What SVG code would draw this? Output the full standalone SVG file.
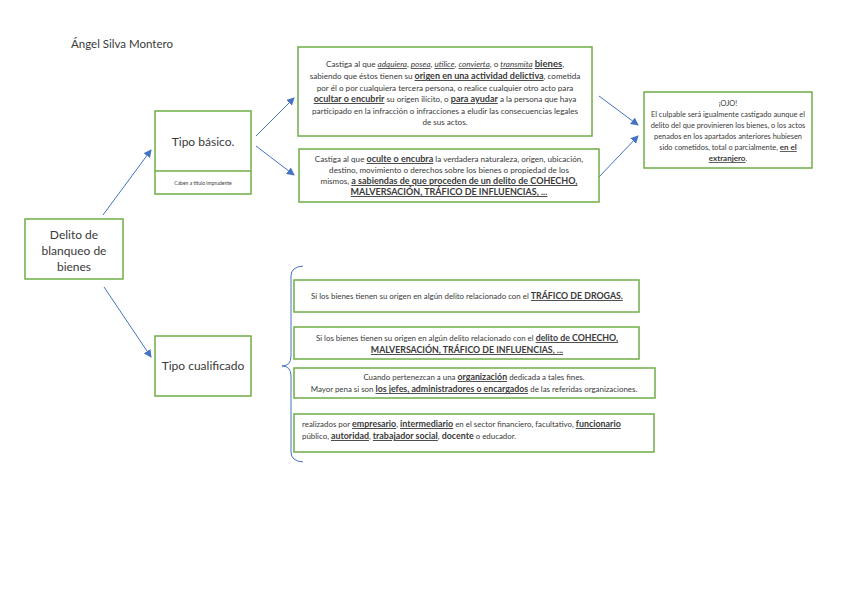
<svg xmlns="http://www.w3.org/2000/svg" width="848" height="599" viewBox="0 0 848 599">
<defs>
<marker id="ah" markerWidth="8" markerHeight="8" refX="7" refY="4" orient="auto" markerUnits="userSpaceOnUse">
<path d="M0,0 L8,4 L0,8 z" fill="#4472C4"/>
</marker>
<style>
.box{fill:#fff;stroke:#70AD47;stroke-width:1.5}
.t{font-family:Lato,"Liberation Sans",sans-serif;fill:#3a3a3a}
.s{font-size:7.4px}
.a{font-size:8.1px}
.q{font-size:7.9px}
.m{text-anchor:middle}
.u{text-decoration:underline;font-weight:bold}
.ui{text-decoration:underline;font-style:italic}
.arrow{stroke:#4472C4;stroke-width:1;fill:none;marker-end:url(#ah)}
</style>
</defs>
<rect width="848" height="599" fill="#fff"/>
<text class="t" x="71" y="48" font-size="11.5">Ángel Silva Montero</text>

<g id="connectors">
<line class="arrow" x1="103" y1="215" x2="151" y2="150"/>
<line class="arrow" x1="104" y1="287" x2="151" y2="357"/>
<line class="arrow" x1="256" y1="136" x2="294" y2="98"/>
<line class="arrow" x1="256" y1="146" x2="294" y2="175"/>
<line class="arrow" x1="599" y1="96" x2="638" y2="125"/>
<line class="arrow" x1="599" y1="177" x2="638" y2="136"/>
<path d="M303,266 Q291,267 291,276 L291,356 Q291,366 282,366 Q291,366 291,376 L291,452 Q291,461 303,462" stroke="#4472C4" stroke-width="1" fill="none"/>
</g>

<g id="delito">
<rect class="box" x="25" y="219" width="98" height="60"/>
<text class="t m" x="74" y="239" font-size="12">Delito de</text>
<text class="t m" x="74" y="255" font-size="12">blanqueo de</text>
<text class="t m" x="74" y="271" font-size="12">bienes</text>
</g>

<g id="tipo-basico">
<rect class="box" x="155" y="111" width="96" height="83"/>
<line x1="155" y1="171" x2="251" y2="171" stroke="#70AD47" stroke-width="1.5"/>
<text class="t m" x="203" y="146" font-size="12">Tipo básico.</text>
<text class="t m" x="203" y="185" font-size="5">Caben a título imprudente</text>
</g>

<g id="tipo-cualificado">
<rect class="box" x="155" y="336" width="96" height="60"/>
<text class="t m" x="203" y="370" font-size="12">Tipo cualificado</text>
</g>

<g id="basico-1">
<rect class="box" x="298" y="47" width="294" height="89"/>
<text class="t a m" x="445" y="67">Castiga al que <tspan class="ui">adquiera</tspan>, <tspan class="ui">posea</tspan>, <tspan class="ui">utilice</tspan>, <tspan class="ui">convierta</tspan>, o <tspan class="ui">transmita</tspan> <tspan class="u" font-size="9.5">bienes</tspan>,</text>
<text class="t a m" x="445" y="79">sabiendo que éstos tienen su <tspan class="u" font-size="9">origen en una actividad delictiva</tspan>, cometida</text>
<text class="t a m" x="445" y="91">por él o por cualquiera tercera persona, o realice cualquier otro acto para</text>
<text class="t a m" x="445" y="102"><tspan class="u" font-size="9">ocultar o encubrir</tspan> su origen ilícito, o <tspan class="u" font-size="9">para ayudar</tspan> a la persona que haya</text>
<text class="t a m" x="445" y="114">participado en la infracción o infracciones a eludir las consecuencias legales</text>
<text class="t a m" x="445" y="125">de sus actos.</text>
</g>

<g id="basico-2">
<rect class="box" x="299" y="149" width="300" height="53"/>
<text class="t a m" x="449" y="162">Castiga al que <tspan class="u" font-size="9">oculte o encubra</tspan> la verdadera naturaleza, origen, ubicación,</text>
<text class="t a m" x="449" y="173">destino, movimiento o derechos sobre los bienes o propiedad de los</text>
<text class="t a m" x="449" y="184">mismos, <tspan class="u" font-size="9">a sabiendas de que proceden de un delito de COHECHO,</tspan></text>
<text class="t a m" x="449" y="195"><tspan class="u" font-size="9">MALVERSACIÓN, TRÁFICO DE INFLUENCIAS, ...</tspan></text>
</g>

<g id="ojo">
<rect class="box" x="644" y="92" width="168" height="76"/>
<text class="t s m" x="728" y="106">¡OJO!</text>
<text class="t s m" x="728" y="117">El culpable será igualmente castigado aunque el</text>
<text class="t s m" x="728" y="128">delito del que provinieren los bienes, o los actos</text>
<text class="t s m" x="728" y="139">penados en los apartados anteriores hubiesen</text>
<text class="t s m" x="728" y="150">sido cometidos, total o parcialmente, <tspan class="u" font-size="8">en el</tspan></text>
<text class="t s m" x="728" y="161"><tspan class="u" font-size="8">extranjero</tspan>.</text>
</g>

<g id="cualif-1">
<rect class="box" x="294" y="280" width="345" height="32"/>
<text class="t q m" x="467" y="299">Si los bienes tienen su origen en algún delito relacionado con el <tspan class="u" font-size="8.8">TRÁFICO DE DROGAS.</tspan></text>
</g>

<g id="cualif-2">
<rect class="box" x="294" y="327" width="345" height="32"/>
<text class="t q m" x="467" y="341">Si los bienes tienen su origen en algún delito relacionado con el <tspan class="u" font-size="8.8">delito de COHECHO,</tspan></text>
<text class="t q m" x="467" y="353"><tspan class="u" font-size="8.8">MALVERSACIÓN, TRÁFICO DE INFLUENCIAS, ...</tspan></text>
</g>

<g id="cualif-3">
<rect class="box" x="294" y="368" width="361" height="30"/>
<text class="t q m" x="474" y="380">Cuando pertenezcan a una <tspan class="u" font-size="8.8">organización</tspan> dedicada a tales fines.</text>
<text class="t q m" x="474" y="392">Mayor pena si son <tspan class="u" font-size="8.8">los jefes, administradores o encargados</tspan> de las referidas organizaciones.</text>
</g>

<g id="cualif-4">
<rect class="box" x="294" y="414" width="360" height="38"/>
<text class="t q" x="302" y="427" font-size="8.1">realizados por <tspan class="u" font-size="8.9">empresario</tspan>, <tspan class="u" font-size="8.9">intermediario</tspan> en el sector financiero, facultativo, <tspan class="u" font-size="8.9">funcionario</tspan></text>
<text class="t q" x="302" y="439" font-size="8.1">público, <tspan class="u" font-size="8.9">autoridad</tspan>, <tspan class="u" font-size="8.9">trabajador social</tspan>, <tspan font-weight="bold" font-size="8.9">docente</tspan> o educador.</text>
</g>
</svg>
